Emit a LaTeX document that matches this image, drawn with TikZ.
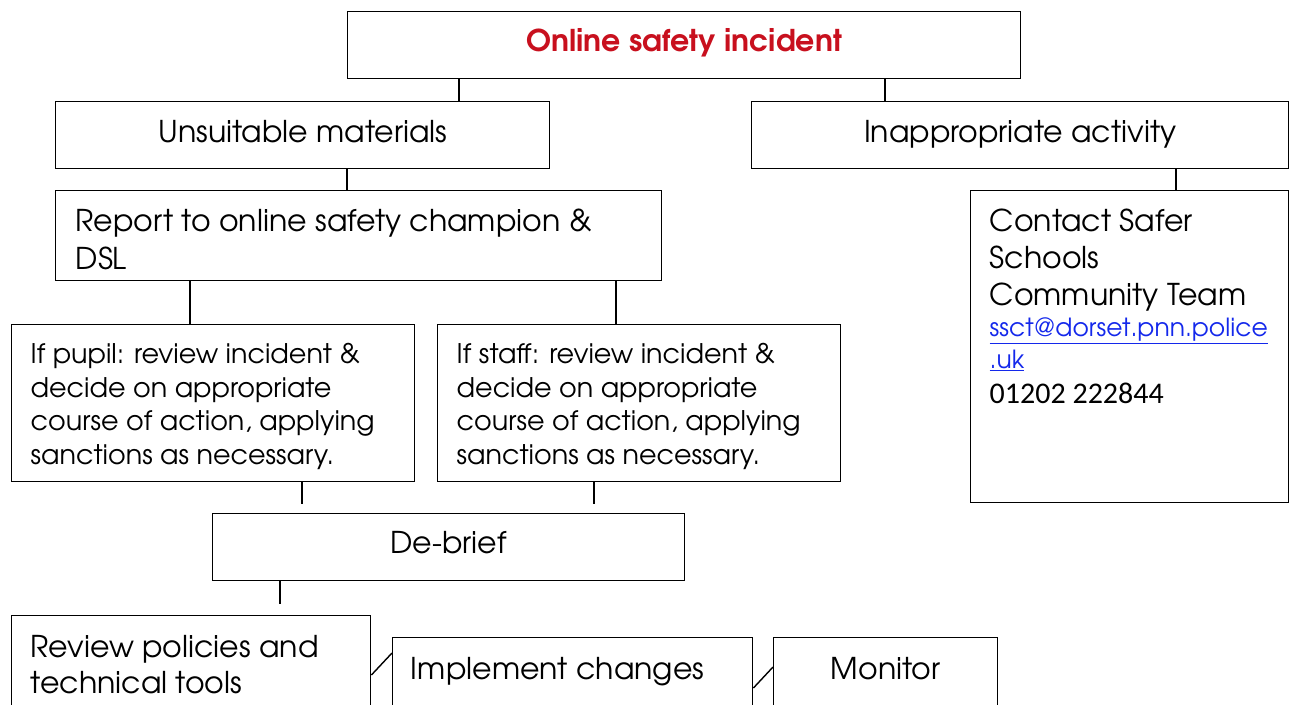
\documentclass[tikz,border=0pt]{standalone}
\usepackage{fontspec}
\setmainfont{texgyreadventor}[Extension=.otf, UprightFont=*-regular, BoldFont=*-bold, ItalicFont=*-italic, BoldItalicFont=*-bolditalic]
\newfontfamily\calib{Carlito}
\definecolor{titlered}{RGB}{200,16,30}
\definecolor{linkblue}{RGB}{20,40,235}
\newcommand{\bigf}{\fontsize{30}{37}\selectfont}
\newcommand{\smallf}{\fontsize{27}{33.5}\selectfont}
\begin{document}
\begin{tikzpicture}[x=1pt,y=-1pt,
  box/.style={draw=black, line width=1.4pt, anchor=north west, inner sep=0pt, font=\bigf},
  link/.style={draw=black, line width=1.4pt}]
\useasboundingbox (0,0) rectangle (1290,704);
\clip (0,0) rectangle (1290,704);
% boxes
\node[box, minimum width=673pt, text height=40pt, text depth=27pt, font=\bigf\bfseries, text=titlered] (top) at (347,11) {Online safety incident};
\node[box, minimum width=494pt, text height=41pt, text depth=26pt] (unsuit) at (55,101) {Unsuitable materials};
\node[box, minimum width=537pt, text height=41pt, text depth=26pt] (inapp) at (751,101) {Inappropriate activity};
\node[box, minimum width=606pt, text height=41pt, text depth=49pt] (report) at (55,190)
  {\parbox[t]{566pt}{\fontsize{30}{38}\selectfont\raggedright Report to online safety champion \&\\DSL}};
\node[box, minimum width=318pt, text height=41pt, text depth=271pt] (contact) at (970,190)
  {\parbox[t]{280pt}{\raggedright Contact Safer\\Schools\\Community Team\\[1pt]{\fontsize{25}{30}\selectfont\color{linkblue}\underline{ssct@dorset.pnn.police}\\[-5pt]\underline{.uk}}\\[-2pt]{\calib\fontsize{30}{33}\selectfont 01202 222844}}};
\node[box, minimum width=403pt, text height=39pt, text depth=118pt] (pupil) at (11,324)
  {\parbox[t]{365pt}{\smallf\raggedright If pupil: review incident \&\\decide on appropriate\\course of action, applying\\sanctions as necessary.}};
\node[box, minimum width=403pt, text height=39pt, text depth=118pt] (staff) at (437,324)
  {\parbox[t]{365pt}{\smallf\raggedright If staff: review incident \&\\decide on appropriate\\course of action, applying\\sanctions as necessary.}};
\node[box, minimum width=472pt, text height=40pt, text depth=27pt] (debrief) at (212,513) {De-brief};
\node[box, minimum width=359pt, text height=42pt, text depth=100pt] (review) at (11,615)
  {\parbox[t]{321pt}{\fontsize{30}{36}\selectfont\raggedright Review policies and\\technical tools}};
\node[box, minimum width=360pt, text height=42pt, text depth=80pt] (impl) at (392,637)
  {\parbox[t]{324pt}{\raggedright Implement changes}};
\node[box, minimum width=224pt, text height=42pt, text depth=80pt] (monitor) at (773,637) {Monitor};
% connectors
\draw[link] ([xshift=112pt]top.south west) coordinate (c1) -- (c1 |- unsuit.north);
\draw[link] ([xshift=538pt]top.south west) coordinate (c2) -- (c2 |- inapp.north);
\draw[link] ([xshift=292pt]unsuit.south west) coordinate (c3) -- (c3 |- report.north);
\draw[link] ([xshift=425pt]inapp.south west) coordinate (c4) -- (c4 |- contact.north);
\draw[link] ([xshift=135pt]report.south west) coordinate (c5) -- (c5 |- pupil.north);
\draw[link] ([xshift=561pt]report.south west) coordinate (c6) -- (c6 |- staff.north);
\coordinate (e1) at ([xshift=291pt,yshift=-22pt]pupil.south west);
\coordinate (e2) at ([xshift=157pt,yshift=-22pt]staff.south west);
\coordinate (e3) at ([xshift=68pt,yshift=-23pt]debrief.south west);
\draw[link] (e1 |- pupil.south) -- (e1);
\draw[link] (e2 |- staff.south) -- (e2);
\draw[link] (e3 |- debrief.south) -- (e3);
\draw[link] ([yshift=-60pt]review.north east) -- ([yshift=-16pt]impl.north west);
\draw[link] ([yshift=-51pt]impl.north east) -- ([yshift=-30pt]monitor.north west);
\end{tikzpicture}
\end{document}
